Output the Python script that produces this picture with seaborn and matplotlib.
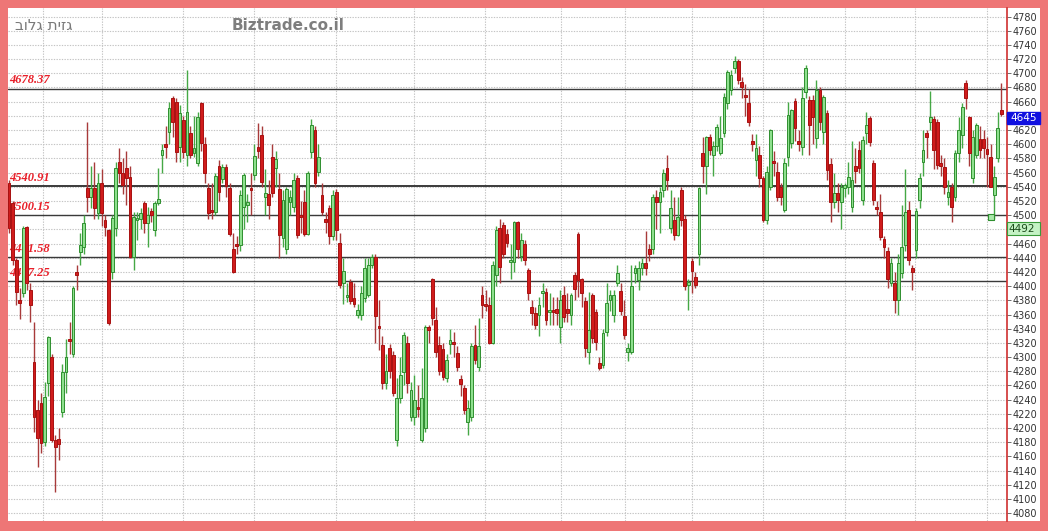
import numpy as np
import pandas as pd
import seaborn as sns
import matplotlib
matplotlib.use("Agg")
import matplotlib.pyplot as plt
from matplotlib.patches import Rectangle
from matplotlib.transforms import blended_transform_factory

# daily candles (oldest first)
opens = [4545, 4517, 4437, 4380, 4390, 4483, 4395, 4293, 4225, 4235,
         4181, 4263, 4300, 4183, 4185, 4223, 4279, 4326, 4305, 4420,
         4448, 4455, 4538, 4526, 4538, 4503, 4546, 4493, 4479, 4420,
         4482, 4575, 4560, 4566, 4554, 4441, 4493, 4494, 4517, 4489,
         4506, 4479, 4517, 4585, 4600, 4617, 4665, 4659, 4596, 4634,
         4585, 4616, 4588, 4573, 4658, 4600, 4539, 4508, 4504, 4569,
         4551, 4568, 4539, 4452, 4459, 4458, 4512, 4515, 4539, 4557,
         4596, 4613, 4526, 4530, 4582, 4566, 4537, 4468, 4452, 4519,
         4511, 4553, 4500, 4519, 4474, 4589, 4620, 4561, 4528, 4494,
         4510, 4471, 4533, 4461, 4404, 4384, 4406, 4383, 4359, 4359,
         4383, 4388, 4430, 4441, 4343, 4317, 4264, 4313, 4303, 4183,
         4242, 4279, 4320, 4216, 4216, 4229, 4183, 4200, 4342, 4410,
         4352, 4317, 4311, 4271, 4318, 4321, 4306, 4269, 4257, 4208,
         4216, 4317, 4286, 4387, 4375, 4374, 4320, 4415, 4482, 4486,
         4474, 4434, 4434, 4490, 4443, 4460, 4423, 4370, 4362, 4360,
         4390, 4392, 4364, 4366, 4368, 4342, 4387, 4368, 4360, 4415,
         4474, 4410, 4379, 4307, 4387, 4364, 4292, 4289, 4335, 4380,
         4360, 4405, 4393, 4358, 4307, 4307, 4418, 4408, 4426, 4432,
         4452, 4453, 4525, 4518, 4535, 4566, 4482, 4493, 4472, 4535,
         4495, 4402, 4436, 4413, 4446, 4587, 4570, 4610, 4585, 4598,
         4587, 4616, 4658, 4676, 4707, 4717, 4688, 4669, 4658, 4603,
         4578, 4585, 4552, 4493, 4540, 4575, 4561, 4540, 4508, 4582,
         4602, 4661, 4603, 4596, 4673, 4662, 4662, 4609, 4677, 4617,
         4644, 4572, 4519, 4531, 4519, 4539, 4540, 4512, 4569, 4592,
         4521, 4616, 4637, 4574, 4511, 4504, 4467, 4449, 4404, 4404,
         4381, 4418, 4458, 4507, 4425, 4451, 4521, 4575, 4616, 4631,
         4636, 4631, 4572, 4568, 4526, 4540, 4526, 4587, 4613, 4686,
         4638, 4552, 4585, 4608, 4608, 4593, 4582, 4528, 4580, 4648]
closes = [4482, 4437, 4392, 4376, 4482, 4405, 4373, 4216, 4186, 4179,
          4244, 4328, 4183, 4173, 4177, 4279, 4300, 4322, 4398, 4416,
          4458, 4489, 4526, 4538, 4510, 4546, 4503, 4483, 4348, 4496,
          4566, 4560, 4543, 4552, 4441, 4497, 4496, 4503, 4489, 4500,
          4500, 4517, 4523, 4592, 4596, 4651, 4631, 4589, 4644, 4589,
          4646, 4585, 4595, 4638, 4602, 4559, 4503, 4504, 4555, 4532,
          4568, 4541, 4474, 4420, 4456, 4528, 4557, 4518, 4536, 4584,
          4590, 4547, 4531, 4514, 4531, 4579, 4472, 4521, 4537, 4525,
          4550, 4472, 4497, 4474, 4560, 4627, 4545, 4582, 4504, 4490,
          4471, 4528, 4479, 4402, 4421, 4386, 4379, 4375, 4366, 4390,
          4425, 4430, 4441, 4358, 4341, 4263, 4281, 4281, 4250, 4242,
          4275, 4331, 4263, 4253, 4240, 4227, 4242, 4342, 4338, 4355,
          4307, 4281, 4272, 4296, 4324, 4318, 4286, 4262, 4225, 4228,
          4316, 4296, 4315, 4374, 4372, 4320, 4430, 4479, 4427, 4446,
          4461, 4437, 4490, 4453, 4465, 4437, 4391, 4362, 4345, 4374,
          4393, 4352, 4366, 4363, 4362, 4380, 4357, 4362, 4387, 4396,
          4408, 4391, 4313, 4338, 4327, 4321, 4285, 4334, 4376, 4387,
          4387, 4419, 4365, 4331, 4313, 4400, 4426, 4426, 4432, 4426,
          4446, 4525, 4518, 4532, 4559, 4549, 4510, 4472, 4497, 4493,
          4400, 4406, 4422, 4402, 4538, 4570, 4610, 4592, 4597, 4624,
          4609, 4667, 4702, 4697, 4717, 4690, 4681, 4667, 4631, 4601,
          4595, 4552, 4493, 4561, 4620, 4573, 4526, 4526, 4574, 4641,
          4648, 4623, 4601, 4665, 4707, 4627, 4638, 4677, 4631, 4667,
          4564, 4519, 4531, 4521, 4540, 4541, 4554, 4550, 4562, 4566,
          4606, 4627, 4603, 4521, 4509, 4469, 4455, 4410, 4432, 4381,
          4432, 4455, 4504, 4437, 4420, 4506, 4552, 4592, 4610, 4638,
          4592, 4571, 4570, 4540, 4533, 4512, 4587, 4620, 4653, 4665,
          4587, 4610, 4627, 4592, 4594, 4586, 4540, 4554, 4623, 4643]
highs = [4550, 4520, 4440, 4398, 4485, 4485, 4405, 4350, 4240, 4250,
         4265, 4330, 4305, 4190, 4200, 4290, 4325, 4350, 4400, 4430,
         4475, 4500, 4632, 4570, 4575, 4560, 4565, 4500, 4480, 4500,
         4575, 4594, 4580, 4590, 4570, 4505, 4505, 4510, 4520, 4512,
         4510, 4520, 4566, 4600, 4625, 4660, 4668, 4665, 4655, 4640,
         4705, 4625, 4640, 4645, 4660, 4610, 4545, 4545, 4560, 4578,
         4572, 4572, 4545, 4475, 4470, 4535, 4560, 4530, 4560, 4600,
         4630, 4625, 4565, 4550, 4600, 4590, 4560, 4535, 4540, 4535,
         4560, 4556, 4520, 4535, 4562, 4636, 4625, 4600, 4545, 4505,
         4515, 4535, 4537, 4475, 4440, 4405, 4410, 4405, 4375, 4400,
         4440, 4440, 4445, 4445, 4380, 4330, 4305, 4318, 4308, 4270,
         4300, 4335, 4330, 4265, 4275, 4260, 4285, 4345, 4345, 4412,
         4370, 4330, 4320, 4305, 4340, 4335, 4315, 4275, 4260, 4240,
         4320, 4345, 4355, 4400, 4395, 4385, 4435, 4485, 4495, 4490,
         4480, 4460, 4492, 4492, 4475, 4465, 4425, 4380, 4370, 4385,
         4405, 4398, 4390, 4385, 4385, 4395, 4400, 4390, 4390, 4420,
         4476, 4412, 4385, 4392, 4390, 4368, 4300, 4340, 4405, 4395,
         4395, 4430, 4405, 4380, 4320, 4430, 4430, 4435, 4440, 4478,
         4460, 4530, 4535, 4540, 4565, 4585, 4535, 4525, 4525, 4540,
         4500, 4410, 4440, 4420, 4540, 4610, 4612, 4615, 4605, 4628,
         4640, 4672, 4705, 4705, 4725, 4720, 4695, 4685, 4678, 4615,
         4615, 4598, 4555, 4570, 4622, 4590, 4575, 4545, 4580, 4660,
         4650, 4665, 4620, 4680, 4712, 4668, 4670, 4690, 4680, 4670,
         4648, 4580, 4560, 4545, 4545, 4545, 4575, 4605, 4595, 4605,
         4612, 4645, 4640, 4578, 4520, 4530, 4470, 4455, 4440, 4420,
         4445, 4515, 4565, 4520, 4430, 4510, 4560, 4620, 4620, 4675,
         4640, 4635, 4585, 4580, 4550, 4545, 4592, 4638, 4658, 4690,
         4640, 4620, 4630, 4625, 4620, 4610, 4600, 4570, 4645, 4686]
lows = [4475, 4430, 4373, 4353, 4385, 4395, 4350, 4195, 4145, 4165,
        4175, 4245, 4180, 4110, 4155, 4215, 4250, 4305, 4300, 4395,
        4430, 4445, 4505, 4510, 4495, 4495, 4485, 4470, 4345, 4410,
        4470, 4545, 4530, 4515, 4440, 4423, 4465, 4480, 4475, 4455,
        4490, 4470, 4515, 4560, 4580, 4600, 4610, 4575, 4575, 4580,
        4570, 4580, 4582, 4570, 4590, 4545, 4495, 4495, 4500, 4520,
        4545, 4525, 4470, 4418, 4445, 4450, 4480, 4490, 4500, 4550,
        4580, 4540, 4500, 4495, 4525, 4540, 4440, 4455, 4445, 4500,
        4505, 4468, 4475, 4470, 4472, 4580, 4540, 4555, 4500, 4475,
        4460, 4465, 4465, 4398, 4375, 4378, 4375, 4370, 4355, 4352,
        4378, 4385, 4425, 4320, 4310, 4255, 4255, 4270, 4245, 4175,
        4235, 4260, 4250, 4210, 4205, 4215, 4180, 4195, 4320, 4345,
        4300, 4275, 4268, 4265, 4305, 4300, 4280, 4245, 4220, 4190,
        4210, 4290, 4280, 4355, 4365, 4318, 4318, 4400, 4405, 4440,
        4455, 4410, 4420, 4440, 4435, 4430, 4380, 4345, 4340, 4330,
        4370, 4345, 4345, 4345, 4345, 4320, 4350, 4350, 4345, 4380,
        4385, 4370, 4300, 4290, 4320, 4310, 4282, 4285, 4330, 4365,
        4350, 4400, 4360, 4325, 4295, 4305, 4405, 4395, 4415, 4415,
        4435, 4445, 4480, 4475, 4525, 4535, 4475, 4465, 4470, 4485,
        4395, 4367, 4390, 4398, 4430, 4545, 4530, 4585, 4555, 4590,
        4585, 4610, 4650, 4670, 4700, 4685, 4665, 4640, 4625, 4590,
        4555, 4540, 4490, 4488, 4535, 4555, 4520, 4515, 4505, 4570,
        4595, 4605, 4590, 4585, 4665, 4585, 4600, 4595, 4620, 4600,
        4550, 4490, 4510, 4505, 4480, 4525, 4530, 4505, 4545, 4560,
        4515, 4600, 4598, 4515, 4500, 4465, 4440, 4398, 4400, 4362,
        4360, 4412, 4450, 4430, 4395, 4440, 4510, 4555, 4580, 4620,
        4565, 4565, 4555, 4530, 4515, 4490, 4520, 4575, 4595, 4650,
        4570, 4545, 4580, 4580, 4580, 4540, 4540, 4495, 4575, 4640]

# support / resistance levels drawn across the chart
levels = [4678.37, 4540.91, 4500.15, 4441.58, 4407.25]
level_labels = ["4678.37", "4540.91", "4500.15", "4441.58", "4407.25"]
# candle positions where the month separators fall
month_marks = [9.6, 26.2, 48.9, 68.9, 92, 113.9, 133.9, 155.2, 173.2, 192, 212, 235.1, 254.8, 275]
price_ticks = list(range(4080, 4781, 20))
last_price = 4645
last_tag_at = 4637
signal_price = 4492
signal_tag_at = 4481
signal_day = 276
signal_level = 4497

df = pd.DataFrame({"open": opens, "high": highs, "low": lows, "close": closes})
df["day"] = np.arange(len(df))
df["up"] = df["close"] >= df["open"]

sns.set_style("white")
plt.rcParams["font.family"] = ["DejaVu Sans"]

W, H = 1048, 531
fig = plt.figure(figsize=(W / 100, H / 100), dpi=100, facecolor="#EE7676")
ax = fig.add_axes([8 / W, 10 / H, 999 / W, 513 / H])
ax.set_facecolor("white")

# white panel for the price scale
fig.patches.append(Rectangle((1007 / W, 10 / H), 33 / W, 513 / H,
                             transform=fig.transFigure, facecolor="white",
                             edgecolor="none", zorder=-1))

ax.set_xlim(-0.3, 280.6)
ax.set_ylim(4069, 4792)

# labels hidden behind the price tags are left blank
hidden = {4640, 4480}
ax.set_yticks(price_ticks)
ax.set_yticklabels(["" if t in hidden else str(t) for t in price_ticks])
ax.yaxis.tick_right()
ax.tick_params(axis="y", right=True, length=3, width=0.6, color="#555555",
               labelsize=7, labelcolor="#333333", pad=1)
ax.set_xticks(month_marks)
ax.tick_params(axis="x", bottom=False, labelbottom=False)
ax.grid(True, color="#C4C4C4", linestyle=(0, (1.2, 1.2)), linewidth=0.8)
ax.set_axisbelow(True)
for s in ["left", "top", "bottom"]:
    ax.spines[s].set_visible(False)
ax.spines["right"].set_color("#D03030")
ax.spines["right"].set_linewidth(1.2)

# levels and their labels
lt = blended_transform_factory(ax.transAxes, ax.transData)
for lv, lb in zip(levels, level_labels):
    lw = 1.4 if lb == "4540.91" else 1.0
    ax.axhline(lv, color="#3A3A3A", linewidth=lw, zorder=1)
    ax.text(0.001, lv + 3, lb, transform=lt, ha="left", va="bottom",
            fontsize=9, fontstyle="italic", fontweight="bold",
            family="Liberation Serif", color="#E8202A", zorder=1.5)

# candles
up = df[df["up"]]
dn = df[~df["up"]]
ax.vlines(up["day"], up["low"], up["high"], color="#45A845", linewidth=1, zorder=2)
ax.vlines(dn["day"], dn["low"], dn["high"], color="#A83A3A", linewidth=1, zorder=2)
body_w = 0.78
ax.bar(up["day"], np.maximum(up["close"] - up["open"], 3), bottom=up["open"],
       width=body_w, color="#8EE08E", edgecolor="#2F8F2F", linewidth=0.7, zorder=3)
ax.bar(dn["day"], np.maximum(dn["open"] - dn["close"], 3), bottom=dn["close"],
       width=body_w, color="#D01C1C", edgecolor="#A81010", linewidth=0.7, zorder=3)

# signal marker
ax.scatter([signal_day], [signal_level], marker="s", s=22, color="#A8E8A8",
           edgecolor="#2F8F2F", linewidth=0.8, zorder=4)

# price tags on the scale
tag_w = 33 / 999
tag_h = 18
ax.add_patch(Rectangle((1.0005, last_tag_at - tag_h / 2), tag_w, tag_h, transform=lt,
                       facecolor="#1010E0", edgecolor="#1010E0", clip_on=False, zorder=5))
ax.text(1.0005 + tag_w / 2, last_tag_at, str(last_price), transform=lt,
        ha="center", va="center", fontsize=7.5, color="white", clip_on=False, zorder=6)
ax.add_patch(Rectangle((1.0005, signal_tag_at - tag_h / 2), tag_w, tag_h, transform=lt,
                       facecolor="#C4F2C4", edgecolor="#3A9A3A", linewidth=0.8,
                       clip_on=False, zorder=5))
ax.text(1.0015, signal_tag_at, str(signal_price), transform=lt,
        ha="left", va="center", fontsize=7.5, color="#1A4A1A", clip_on=False, zorder=6)

# header texts
fig.text(44 / W, 1 - 25 / H, "גזית גלוב"[::-1], ha="center", va="center",
         fontsize=11, color="#7A7A7A")
fig.text(288 / W, 1 - 25 / H, "Biztrade.co.il", ha="center", va="center",
         fontsize=11, fontweight="bold", color="#7E7E7E")

fig.savefig("out.png", dpi=100, facecolor=fig.get_facecolor())
